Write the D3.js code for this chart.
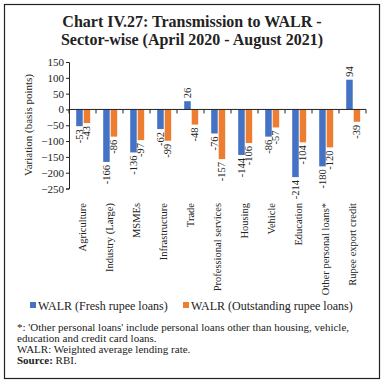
<!DOCTYPE html>
<html><head><meta charset="utf-8">
<script src="https://cdn.jsdelivr.net/npm/d3@7"></script>
<style>body{margin:0;background:#fff}</style>
</head><body>
<script>
const categories = ["Agriculture","Industry (Large)","MSMEs","Infrastructure","Trade","Professional services","Housing","Vehicle","Education","Other personal loans*","Rupee export credit"];
const freshLoans = [-53,-166,-136,-62,26,-76,-144,-86,-214,-180,94];
const outstandingLoans = [-43,-86,-97,-99,-48,-157,-106,-57,-104,-120,-39];
const seriesNames = ["WALR (Fresh rupee loans)","WALR (Outstanding rupee loans)"];
const yTicks = [150,100,50,0,-50,-100,-150,-200,-250];
const colors = ["#4472C4","#ED7D31"];

const W=384,H=385;
const svg=d3.select("body").append("svg").attr("width",W).attr("height",H);
const font="'Liberation Serif', serif";
svg.append("rect").attr("x",4.5).attr("y",4.5).attr("width",375).attr("height",374).attr("fill","none").attr("stroke","#222").attr("stroke-width",1.2);

svg.append("text").attr("x",192).attr("y",27).attr("text-anchor","middle").attr("font-family",font).attr("font-weight","bold").attr("font-size",16).attr("fill","#222").text("Chart IV.27: Transmission to WALR -");
svg.append("text").attr("x",192).attr("y",45).attr("text-anchor","middle").attr("font-family",font).attr("font-weight","bold").attr("font-size",16).attr("fill","#222").text("Sector-wise (April 2020 - August 2021)");

const x0=69, x1=366;
const y=d3.scaleLinear().domain([-250,150]).range([188.5,62]);
const x=d3.scaleBand().domain(categories).range([x0,x1]).paddingInner(0).paddingOuter(0);

const gy=svg.append("g").attr("transform",`translate(${x0},0)`).call(d3.axisLeft(y).tickValues(yTicks).tickSize(3).tickPadding(2));
gy.selectAll("text").attr("font-family",font).attr("font-size",11).attr("fill","#222");
gy.selectAll("line,path").attr("stroke","#222");

svg.append("text").attr("transform",`translate(32,125) rotate(-90)`).attr("text-anchor","middle").attr("font-family",font).attr("font-size",11).attr("fill","#222").text("Variation (basis points)");

const sub=d3.scaleBand().domain([0,1]).range([0.7,x.bandwidth()+0.7]).paddingInner(0.13).paddingOuter(0.87);
const data=categories.map((c,i)=>({c,v:[freshLoans[i],outstandingLoans[i]]}));
const g=svg.append("g");
data.forEach(d=>{
  d.v.forEach((v,k)=>{
    const bx=x(d.c)+sub(k);
    g.append("rect").attr("x",bx).attr("width",sub.bandwidth())
      .attr("y",y(Math.max(0,v))).attr("height",Math.abs(y(v)-y(0))).attr("fill",colors[k]);
    const ly = v<0 ? y(v)+3 : y(v)-3;
    g.append("text").attr("transform",`translate(${bx+sub.bandwidth()/2+3.5},${ly}) rotate(-90)`)
      .attr("text-anchor",v<0?"end":"start").attr("font-family",font).attr("font-size",10.5).attr("fill","#222").text(v);
  });
});

// zero axis
const gx=svg.append("g").attr("transform",`translate(0,${y(0)})`);
gx.append("line").attr("x1",x0).attr("x2",x1).attr("stroke","#222");
const bounds=categories.map(c=>x(c)).concat([x1]);
bounds.forEach(b=>gx.append("line").attr("x1",b).attr("x2",b).attr("y1",0).attr("y2",4).attr("stroke","#222"));

// category labels
categories.forEach(c=>{
  svg.append("text").attr("transform",`translate(${x(c)+x.bandwidth()/2+3.5},203) rotate(-90)`)
    .attr("text-anchor","end").attr("font-family",font).attr("font-size",10.5).attr("fill","#222").text(c);
});

// legend
const leg=[{x:30,t:seriesNames[0]},{x:183,t:seriesNames[1]}];
leg.forEach((l,i)=>{
  svg.append("rect").attr("x",l.x).attr("y",302).attr("width",6).attr("height",6).attr("fill",colors[i]);
  svg.append("text").attr("x",l.x+8).attr("y",309.5).attr("font-family",font).attr("font-size",12).attr("fill","#222").text(l.t);
});

// footnotes
const notes=["*: 'Other personal loans' include personal loans other than housing, vehicle,","education and credit card loans.","WALR:  Weighted average lending rate."];
notes.forEach((n,i)=>svg.append("text").attr("x",17).attr("y",331+i*11).attr("font-family",font).attr("font-size",11).attr("fill","#222").text(n));
const s=svg.append("text").attr("x",17).attr("y",364).attr("font-family",font).attr("font-size",11).attr("fill","#222");
s.append("tspan").attr("font-weight","bold").text("Source:");
s.append("tspan").text(" RBI.");
</script>
</body></html>
